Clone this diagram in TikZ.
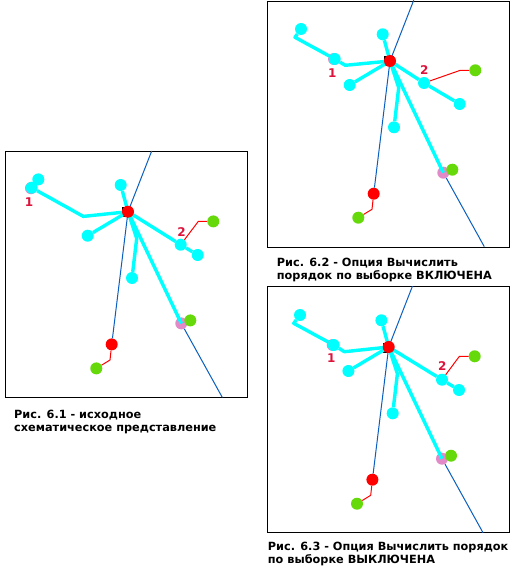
\documentclass[tikz,border=0pt]{standalone}
\usepackage{fontspec}
\setmainfont{DejaVu Sans}
\usetikzlibrary{calc}

\definecolor{linecyan}{HTML}{00FFFF}
\definecolor{riverblue}{HTML}{0A5FC0}
\definecolor{dotgreen}{HTML}{66D90A}
\definecolor{dotpink}{HTML}{E28AC8}
\definecolor{labelred}{HTML}{DC143C}

\tikzset{
    frame/.style={draw=black, line width=1pt},
    river/.style={draw=riverblue, line width=1pt},
    branch/.style={draw=linecyan, line width=3.4pt, line join=round},
    link/.style={draw=red, line width=1pt, line join=round},
    dot/.style={circle, inner sep=0pt, minimum size=12pt, fill=#1},
    numlabel/.style={text=labelred, font=\bfseries\fontsize{12}{12}\selectfont, inner sep=0pt},
    caption/.style={anchor=north west, align=left, inner sep=0pt,
        font=\bfseries\fontsize{11.3}{13}\selectfont}
}

% Part that all three panels share, placed around the hub
\newcommand{\sharedpart}{
    % River
    \coordinate (top) at (23.7,-60.7);
    \coordinate (end) at (94.3,185.7);
    \node[rectangle, inner sep=0pt, minimum size=10pt, fill=black] (base) at (-0.7,0.5) {};
    \node[dot=red] (lower) at (-16.3,132.7) {};
    \node[dot=dotpink] (pink) at (53.3,111.7) {};
    \node[dot=dotgreen] (pinkg) at (62.3,108.7) {};
    \node[dot=dotgreen] (lowerg) at (-31.7,156.7) {};
    \draw[river] (top) -- (0,0) -- (lower);
    \draw[river] (pink) -- (end);
    \coordinate (lowerb) at (-18,148.3);
    \draw[link] (lower) -- (lowerb) -- (lowerg);

    % Branches
    \node[dot=linecyan] (north) at (-7.3,-26.7) {};
    \node[dot=linecyan] (west) at (-40.3,24) {};
    \node[dot=linecyan] (south) at (4,66.3) {};
    \coordinate (southb) at (8.7,26.7);
    \draw[branch] (0,0) -- (north);
    \draw[branch] (0,0) -- (west);
    \draw[branch] (0,0) -- (southb) -- (south);
    \draw[branch] (0,0) -- (pink.center);
}

\begin{document}
\begin{tikzpicture}[x=1pt,y=-1pt]
\useasboundingbox (0,0) rectangle (512,569);
\fill[white] (0,0) rectangle (512,569);

% Panel 6.1
\draw[frame] (5.5,151.5) rectangle (247.5,397.5);
\begin{scope}[shift={(128,211.7)}]
\sharedpart
\node[dot=linecyan] (far) at (-89.7,-32.3) {};
\node[dot=dotpink] (onep) at (-97,-23.5) {};
\node[dot=linecyan] (one) at (-96.3,-24) {};
\coordinate (oneb) at (-44.7,4.7);
\draw[branch] (0,0) -- (oneb) -- (one);
\node[dot=linecyan] (two) at (52.7,33) {};
\node[dot=linecyan] (east) at (69.7,43.3) {};
\draw[branch] (0,0) -- (two) -- (east);
\node[dot=dotgreen] (twog) at (85.3,9.7) {};
\coordinate (twob) at (70.3,9.7);
\draw[link] (two) -- (twob) -- (twog);
\node[dot=red] (hub) at (0,0) {};
\node[numlabel] (lone) at (-99,-9.5) {1};
\node[numlabel] (ltwo) at (53.5,20) {2};
\end{scope}
\node[caption] (capa) at (14,409.7) {Рис. 6.1 - исходное\\схематическое представление};

% Panel 6.2
\draw[frame] (267.5,1.5) rectangle (509.5,247.5);
\begin{scope}[shift={(390,61)}]
\sharedpart
\node[dot=linecyan] (far) at (-89,-32) {};
\node[dot=dotpink] (onep) at (-56,-2) {};
\node[dot=linecyan] (one) at (-55.3,-2) {};
\coordinate (oneb) at (-44.7,4.3);
\coordinate (oned) at (-95,-23.7);
\draw[branch] (0,0) -- (oneb) -- (one) -- (oned) -- (far);
\node[dot=linecyan] (two) at (34,22) {};
\node[dot=linecyan] (east) at (69.7,43) {};
\draw[branch] (0,0) -- (two) -- (east);
\node[dot=dotgreen] (twog) at (85.3,9.3) {};
\coordinate (twob) at (70.3,9.3);
\draw[link] (two) -- (twob) -- (twog);
\node[dot=red] (hub) at (0,0) {};
\node[numlabel] (lone) at (-57.7,12.5) {1};
\node[numlabel] (ltwo) at (34.3,9.5) {2};
\end{scope}
\node[caption] (capb) at (276.7,257.7) {Рис. 6.2 - Опция Вычислить\\порядок по выборке ВКЛЮЧЕНА};

% Panel 6.3
\draw[frame] (267.5,286.5) rectangle (509.5,532.5);
\begin{scope}[shift={(388.7,347)}]
\sharedpart
\node[dot=linecyan] (far) at (-88.7,-32) {};
\node[dot=dotpink] (onep) at (-56,-2) {};
\node[dot=linecyan] (one) at (-55,-2) {};
\coordinate (oneb) at (-44.3,4.7);
\coordinate (oned) at (-95,-23.7);
\draw[branch] (0,0) -- (oneb) -- (one) -- (oned) -- (far);
\node[dot=linecyan] (two) at (53.3,32.7) {};
\node[dot=linecyan] (east) at (70.3,43) {};
\draw[branch] (0,0) -- (two) -- (east);
\node[dot=dotgreen] (twog) at (86,9.3) {};
\coordinate (twob) at (70.7,9.3);
\draw[link] (two) -- (twob) -- (twog);
\node[dot=red] (hub) at (0,0) {};
\node[numlabel] (lone) at (-57.3,11.3) {1};
\node[numlabel] (ltwo) at (53.7,19.3) {2};
\end{scope}
\node[caption] (capc) at (267.7,541.7) {Рис. 6.3 - Опция Вычислить порядок\\по выборке ВЫКЛЮЧЕНА};

\end{tikzpicture}
\end{document}
